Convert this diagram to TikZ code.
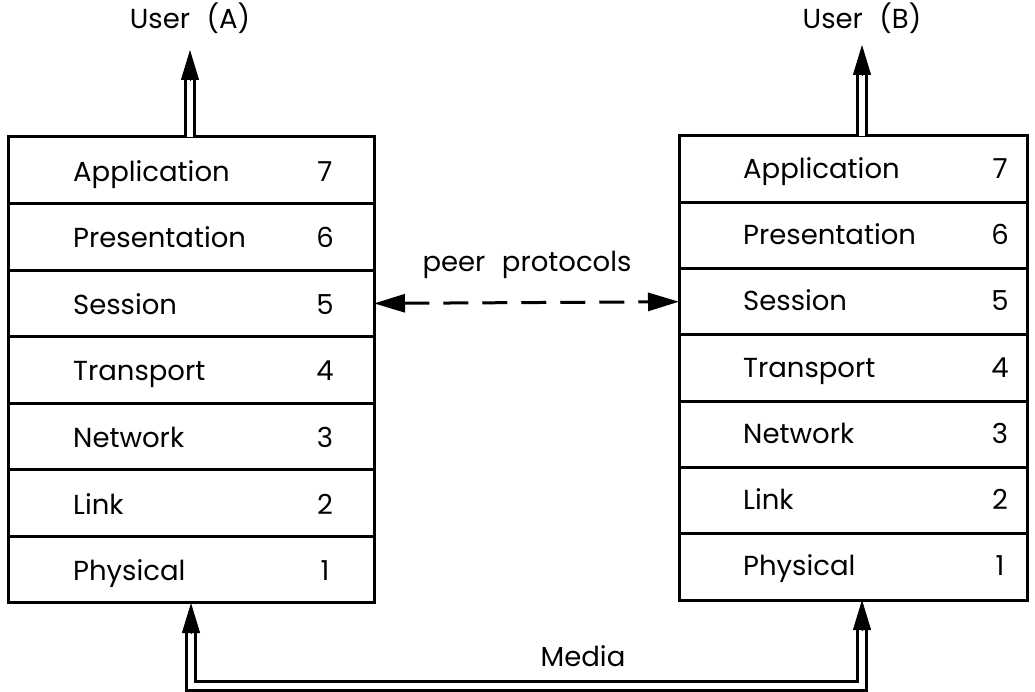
\documentclass[tikz,border=0pt]{standalone}
\usepackage{fontspec}
\setmainfont{Poppins}
\usetikzlibrary{arrows.meta,calc}
\begin{document}
\begin{tikzpicture}[x=1pt,y=-1pt,
  rowL/.style={draw, line width=3pt, minimum width=366pt, minimum height=66.57pt, inner sep=0pt, outer sep=0pt},
  rowR/.style={draw, line width=3pt, minimum width=348pt, minimum height=66.29pt, inner sep=0pt, outer sep=0pt},
  lbl/.style={font=\fontsize{27.5}{31}\selectfont, inner sep=0pt, text height=20pt, text depth=6pt},
  dbl/.style={draw, line width=2.8pt, double=white, double distance=5.5pt, line join=miter},
  tipst/.style={draw, line width=1pt, -{Triangle[length=30pt,width=18pt]}},
  peer/.style={draw, line width=3pt, dash pattern=on 25pt off 14pt,
     {Triangle[length=31pt,width=18pt]}-{Triangle[length=31pt,width=18pt]}}
]
\useasboundingbox (0,0) rectangle (1035,692);
% left stack
\foreach \n/\t in {7/Application,6/Presentation,5/Session,4/Transport,3/Network,2/Link,1/Physical}{
  \node[rowL] (L\n) at (191,{137+(7-\n+0.5)*66.57}) {};
  \node[lbl, anchor=west] (LT\n) at ($(L\n.west)+(65,4)$) {\t};
  \node[lbl] (LN\n) at ($(L\n.east)+(-49,4)$) {\n};
}
% right stack
\foreach \n/\t in {7/Application,6/Presentation,5/Session,4/Transport,3/Network,2/Link,1/Physical}{
  \node[rowR] (R\n) at (853,{136+(7-\n+0.5)*66.29}) {};
  \node[lbl, anchor=west] (RT\n) at ($(R\n.west)+(64,2)$) {\t};
  \node[lbl] (RN\n) at ($(R\n.east)+(-27,2)$) {\n};
}
% users
\node[lbl] (userA) at (190,22) {User\hspace{0.6em}(A)};
\node[lbl] (userB) at (862,22) {User\hspace{0.6em}(B)};
\coordinate (tA) at (190,50);
\coordinate (tB) at (862,45);
\draw[dbl] (L7.north -| tA) -- ($(tA)+(0,28)$);
\draw[tipst] ($(tA)+(0,30)$) -- (tA);
\draw[dbl] (R7.north -| tB) -- ($(tB)+(0,28)$);
\draw[tipst] ($(tB)+(0,30)$) -- (tB);
% peer protocols
\draw[peer] (L5.east) -- (R5.west);
\node[lbl] (peerlbl) at (527,265) {peer\hspace{0.6em}protocols};
% media
\coordinate (bl) at (191,686);
\coordinate (br) at (862,686);
\coordinate (tl) at (191,603);
\coordinate (tr) at (862,600);
\draw[dbl] ($(tl)+(0,28)$) -- (bl) -- (br) -- ($(tr)+(0,28)$);
\draw[tipst] ($(tl)+(0,30)$) -- (tl);
\draw[tipst] ($(tr)+(0,30)$) -- (tr);
\node[lbl] (media) at (583,659) {Media};
\end{tikzpicture}
\end{document}
